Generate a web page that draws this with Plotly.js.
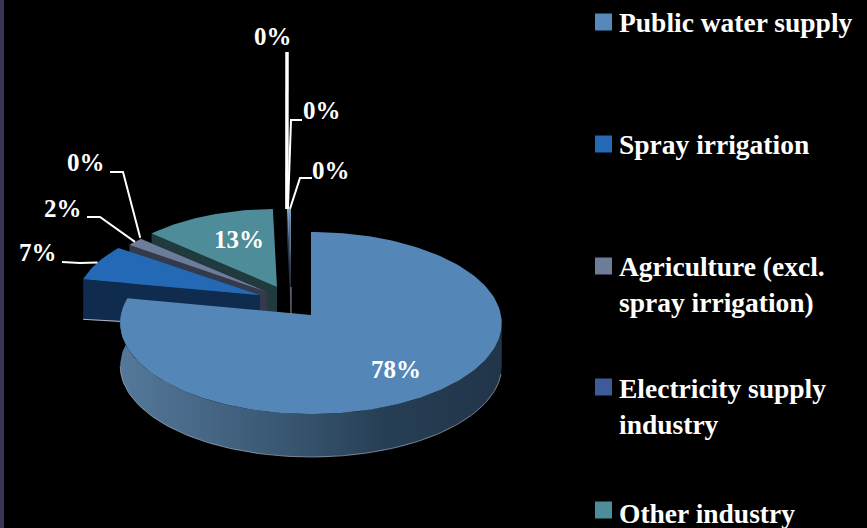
<!DOCTYPE html>
<html><head><meta charset="utf-8">
<script src="https://cdn.plot.ly/plotly-3.0.1.min.js"></script>
<style>html,body{margin:0;padding:0;background:#000;overflow:hidden}</style>
</head><body><div id="chart" style="width:867px;height:528px"></div>
<script>
// ---- data ----
const categories = ['Public water supply','Spray irrigation','Agriculture (excl. spray irrigation)','Electricity supply industry','Other industry','Unnamed A','Unnamed B'];
const values = [78, 6.9, 1.6, 0.1, 13.0, 0.2, 0.2];
const percentLabels = ['78%','7%','2%','0%','13%','0%','0%'];
const legendLabels = ['Public water supply','Spray irrigation','Agriculture (excl.<br>spray irrigation)','Electricity supply<br>industry','Other industry'];
const legendColors = ['#5589b9','#2369b5','#6d7d99','#3d5a9b','#4d8c98'];

// ---- styling / projection ----
const topColors = ['#5487b8','#2369b5','#6d7d99','#3d5a9b','#4d8c98','#7fa3c9','#7fa3c9'];
const sideColors = ['#2f4f6a','#0f2b4d','#333a4b','#26304a','#203a3d','#2a3040','#2a3040'];
const sliceX = [311,260,267,266,277,291,291];
const sliceY = [315,295,292,291,287,287,287];
const radiusX = [190,183,178,178,178,178,178];
const radiusY = [90.3,85,85,85,85,85,85];
const depth = [43,40,40,40,40,27,27];
const persp = 0.088;
const labelX = [396,38,63,86,239,322,331];
const labelY = [369,252,208,162,239,110,170];
const extraLabelX = [273], extraLabelY = [36];
const leaderX = {spray:[62,80],agri:[87,100],elec:[110,123],a:[302,291],b:[312,300]};
const leaderY = {spray:[262,263],agri:[217,217],elec:[172,172],a:[120,120],b:[178,178]};
const legendY = [22,144,266,387,510];
const legendTextY = [22,144,284,406,513];
const serif = '"Liberation Serif", serif';

// ---- geometry from values ----
const total = values.reduce((a,b)=>a+b,0);
const deg = Math.PI/180;
function project(i, thetaDeg){
  const t = thetaDeg*deg, c = Math.cos(t), s = Math.sin(t), w = 1 + persp*c;
  return [sliceX[i] + radiusX[i]*s/w, sliceY[i] - radiusY[i]*c/w];
}
function arc(i, a, b){
  const n = Math.max(2, Math.ceil(Math.abs(b-a)/1.5)), pts = [];
  for (let k=0;k<=n;k++) pts.push(project(i, a+(b-a)*k/n));
  return pts;
}
function polyTrace(pts, color, extra){
  const xs = pts.map(p=>p[0]).concat(pts[0][0]);
  const ys = pts.map(p=>p[1]).concat(pts[0][1]);
  return Object.assign({type:'scatter',mode:'lines',x:xs,y:ys,fill:'toself',fillcolor:color,
    line:{width:0,color:color},hoverinfo:'skip',showlegend:false}, extra||{});
}
const angles = []; let run = 0;
values.forEach(v=>{ angles.push([run/total*360,(run+v)/total*360]); run+=v; });

const traces = [];
// back-to-front painting
const order = [4,3,5,6,2,1,0];
order.forEach(i=>{
  const [a,b] = angles[i];
  const apex = [sliceX[i],sliceY[i]];
  if (i===0){
    const outer = arc(0,95,b);
    const low = outer.slice().reverse().map(p=>[p[0],p[1]+depth[0]]);
    traces.push(polyTrace(outer.concat(low),'#35536c',{fillgradient:{type:'horizontal',start:120,stop:502,
      colorscale:[[0,'#55789a'],[0.45,'#375570'],[0.7,'#263e54'],[1,'#213549']]}}));
    const low2 = arc(0,100,265).map(p=>[p[0],p[1]+depth[0]]);
    traces.push({type:'scatter',mode:'lines',x:low2.map(p=>p[0]),y:low2.map(p=>p[1]),
      line:{color:'rgba(200,205,210,0.7)',width:0.8},hoverinfo:'skip',showlegend:false});
  } else {
    const p0 = project(i,a);
    traces.push(polyTrace([apex,p0,[p0[0],p0[1]+depth[i]],[apex[0],apex[1]+depth[i]]],sideColors[i]));
    if (i===1){
      traces.push({type:'scatter',mode:'lines',x:[p0[0],p0[0]+37],y:[p0[1]+depth[i],p0[1]+depth[i]+2],
        line:{color:'rgba(220,220,220,0.8)',width:1},hoverinfo:'skip',showlegend:false});
    }
  }
  const extra = (i>=5) ? {fillgradient:{type:'vertical',start:208,stop:300,colorscale:[[0,'#7fa3c9'],[1,'#2a3040']]}} : null;
  traces.push(polyTrace([apex].concat(arc(i,a,b)),topColors[i],extra));
});

// leader lines: elbow from the table, end on the slice's outer edge
function leader(xs,ys,i){
  const mid = (angles[i][0]+angles[i][1])/2, end = project(i,mid);
  traces.push({type:'scatter',mode:'lines',x:xs.concat(end[0]),y:ys.concat(end[1]),
    line:{color:'#ffffff',width:2},hoverinfo:'skip',showlegend:false});
}
leader(leaderX.spray,leaderY.spray,1);
leader(leaderX.agri,leaderY.agri,2);
leader(leaderX.elec,leaderY.elec,3);
leader(leaderX.a,leaderY.a,5);
leader(leaderX.b,leaderY.b,6);
const sliverTop = project(5,angles[5][0]);
traces.push({type:'scatter',mode:'lines',x:[287,sliverTop[0]],y:[52,sliverTop[1]],line:{color:'#ffffff',width:3.5},hoverinfo:'skip',showlegend:false});

// thin line continuing the sliver's cut face down to the main slice
traces.push({type:'scatter',mode:'lines',x:[sliceX[5],sliceX[5]],y:[sliceY[5],sliceY[5]+depth[5]],
  line:{color:'#8a8f96',width:1},hoverinfo:'skip',showlegend:false});

// legend swatches
traces.push({type:'scatter',mode:'markers',x:legendY.map(()=>603.5),y:legendY,
  marker:{symbol:'square',size:17,color:legendColors,line:{width:0}},hoverinfo:'skip',showlegend:false});

const annotations = [];
percentLabels.forEach((t,i)=>annotations.push({x:labelX[i],y:labelY[i],xref:'x',yref:'y',text:'<b>'+t+'</b>',showarrow:false,
  xanchor:'center',yanchor:'middle',font:{family:serif,size:25,color:'#ffffff'}}));
annotations.push({x:extraLabelX[0],y:extraLabelY[0],xref:'x',yref:'y',text:'<b>0%</b>',showarrow:false,xanchor:'center',yanchor:'middle',font:{family:serif,size:25,color:'#ffffff'}});
legendLabels.forEach((t,i)=>annotations.push({x:616.5,y:legendTextY[i],xref:'x',yref:'y',
  text:t.split('<br>').map(s=>'<b>'+s+'</b>').join('<br>'),showarrow:false,xanchor:'left',yanchor:'middle',align:'left',
  font:{family:serif,size:27.5,color:'#ffffff'}}));

const layout = {
  width:867,height:528,margin:{l:0,r:0,t:0,b:0},paper_bgcolor:'#000',plot_bgcolor:'#000',showlegend:false,
  xaxis:{range:[0,867],visible:false,fixedrange:true},
  yaxis:{range:[528,0],visible:false,fixedrange:true},
  shapes:[{type:'rect',xref:'x',yref:'y',x0:0,x1:4,y0:0,y1:528,fillcolor:'#3b3555',line:{width:0},layer:'below'}],
  annotations:annotations
};
Plotly.newPlot('chart',traces,layout,{displayModeBar:false,staticPlot:true});
</script></body></html>
